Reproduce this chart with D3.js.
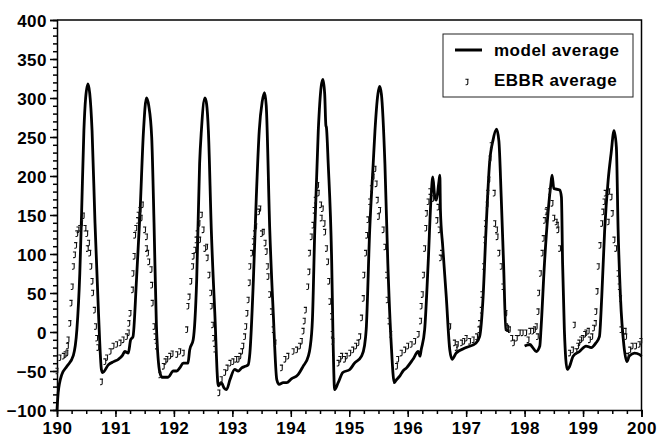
<!DOCTYPE html>
<html>
<head>
<meta charset="utf-8">
<script src="https://cdn.jsdelivr.net/npm/d3@7"></script>
<style>
  body { margin: 0; background: #fff; }
  svg { display: block; }
  .tick text { font-family: "Liberation Sans", Arial, sans-serif; font-weight: bold; font-size: 17px; letter-spacing: 0.5px; fill: #000; }
</style>
</head>
<body>
<div id="chart"></div>
<script>
// model average (null = gap in the record)
const modelT = [190.00,190.02,190.08,190.17,190.28,190.34,190.39,190.42,190.46,190.49,190.53,190.56,190.60,190.65,190.71,190.76,190.78,
  190.88,190.97,191.05,191.12,191.16,191.22,191.26,191.30,191.36,191.42,191.48,191.53,191.57,191.62,191.66,191.70,191.76,191.80,191.90,
  191.99,192.05,192.10,192.16,192.24,192.27,192.33,192.39,192.44,192.47,192.53,192.56,192.59,192.64,192.70,192.76,192.81,192.86,192.90,
  192.96,193.04,193.10,193.16,193.22,193.27,193.30,193.36,193.41,193.46,193.51,193.55,193.58,193.64,193.70,193.76,193.80,193.87,193.93,
  194.01,194.12,194.21,194.30,194.33,194.37,194.41,194.47,194.52,194.55,194.58,194.60,194.61,194.64,194.70,194.72,194.75,194.81,194.89,
  195.01,195.09,195.21,195.26,195.29,195.35,195.41,195.44,195.49,195.52,195.55,195.61,195.66,195.72,195.77,195.80,195.86,195.92,195.98,
  196.09,196.18,196.21,196.23,196.29,196.35,196.40,196.43,196.46,196.49,196.53,196.55,196.56,196.60,196.66,196.72,196.76,196.83,197.00,
  197.17,197.23,197.29,197.34,197.40,197.46,197.52,197.56,197.60,197.64,197.68,197.74,197.85,
  198.00,198.09,198.14,198.20,198.26,198.28,198.34,198.40,198.45,198.47,198.50,198.60,198.63,198.65,198.68,198.73,198.77,198.83,198.94,
  199.05,199.14,199.22,199.28,199.32,199.37,199.43,199.48,199.53,199.57,199.60,199.64,199.70,199.75,199.79,199.88,199.97,200.00];
const modelV = [-100,-78,-55,-44,-30,3,75,150,258,300,318,306,258,140,24,-48,-52,
  -42,-38,-35,-30,-25,-27,-10,-6,67,152,258,300,290,250,140,10,-52,-58,-58,
  -50,-50,-46,-40,-40,-23,-10,67,216,258,300,292,258,131,24,-69,-65,-72,-74,
  -61,-48,-50,-46,-44,-42,-27,67,173,258,295,307,290,131,24,-61,-67,-65,-65,
  -60,-55,-44,-31,-20,16,130,258,315,324,305,265,262,216,88,3,-74,-65,-52,
  -48,-40,-31,-18,3,131,216,258,305,315,305,216,88,-18,-65,-62,-57,-50,-46,
  -35,-25,-31,-23,3,88,173,199,175,169,190,201,156,109,45,-23,-35,-27,-20,
  -14,-6,45,131,216,246,260,245,173,88,3,1,null,
  -18,-16,-20,-25,-18,3,88,152,190,201,184,182,173,88,3,-48,-44,-31,-25,
  -18,-20,-14,-6,45,131,195,229,258,237,131,45,-18,-38,-31,-27,-29,-31];

// EBBR average
const ebbrT = [190.00,190.05,190.11,190.14,190.17,190.18,190.19,190.22,190.24,190.26,190.28,190.30,190.32,190.34,190.36,190.39,190.42,190.45,
  190.48,190.51,190.52,190.54,190.56,190.58,190.60,190.61,190.64,190.66,190.68,190.70,190.76,190.82,190.85,190.91,190.96,191.02,191.08,191.13,191.19,191.22,
  191.23,191.25,191.29,191.30,191.32,191.33,191.35,191.38,191.39,191.42,191.44,191.46,191.50,191.53,191.53,191.55,191.57,191.61,191.62,191.63,
  191.66,191.68,191.70,191.76,191.82,191.85,191.88,191.93,191.97,
  192.05,192.10,192.16,192.22,192.24,192.26,192.29,192.32,192.33,192.36,192.38,192.40,192.43,192.44,192.47,192.50,192.53,192.56,192.57,192.60,
  192.63,192.64,192.66,192.68,192.70,192.77,192.81,192.87,192.91,192.96,193.01,193.06,193.10,193.13,193.16,193.18,193.21,193.23,193.25,193.27,
  193.29,193.30,193.33,193.36,193.38,193.40,193.45,193.47,193.50,193.53,193.56,193.58,193.60,193.61,193.64,193.67,193.70,193.73,193.84,193.90,193.95,
  194.04,194.10,194.15,194.18,194.21,194.23,194.25,194.29,194.31,194.32,194.35,194.38,194.40,194.42,194.46,194.47,194.51,194.52,194.54,194.57,
  194.58,194.61,194.63,194.65,194.67,194.70,194.71,194.72,194.81,194.84,194.87,194.92,194.95,195.01,195.06,195.11,195.15,195.18,195.21,195.24,
  195.25,195.28,195.30,195.32,195.35,195.38,195.41,195.44,195.46,195.48,195.50,195.52,195.58,195.61,195.64,195.65,195.68,195.71,195.81,195.83,195.89,
  195.95,196.00,196.06,196.12,196.18,196.22,196.23,196.25,196.27,196.29,196.31,196.32,196.35,196.38,196.43,196.48,196.50,196.52,196.54,196.56,196.58,
  196.72,196.80,196.83,196.85,196.92,196.96,197.00,197.06,197.12,197.18,197.22,197.23,197.26,197.27,197.30,197.32,197.33,197.36,197.37,197.39,
  197.41,197.43,197.48,197.49,197.52,197.53,197.56,197.60,197.63,197.68,197.69,197.71,197.74,197.78,197.81,197.86,197.91,197.96,198.02,198.06,
  198.09,198.14,198.17,198.20,198.22,198.23,198.24,198.27,198.30,198.32,198.34,198.37,198.38,198.43,198.47,198.50,198.54,198.56,198.57,198.60,
  198.77,198.82,198.85,198.88,198.91,198.93,198.96,198.99,199.03,199.05,199.09,199.11,199.15,199.18,199.21,199.22,199.24,199.26,199.29,199.32,
  199.34,199.36,199.38,199.43,199.44,199.48,199.50,199.53,199.56,199.60,199.62,199.64,199.65,199.72,199.73,199.76,199.80,199.84,199.90,199.96,199.99];
const ebbrV = [-50,-33,-31,-29,-27,-18,-10,11,37,58,84,99,111,126,131,133,139,149,
  133,126,107,114,101,84,65,50,28,7,-8,-20,-64,-38,-33,-25,-18,-16,-14,-10,-6,-1,
  11,24,54,75,97,124,133,143,150,156,146,163,131,122,107,101,90,80,60,37,
  7,-6,-18,-55,-44,-38,-35,-31,-28,
  -29,-25,-27,3,33,45,65,84,97,105,118,126,139,118,150,131,107,109,95,73,
  50,33,9,-8,-22,-78,-61,-52,-46,-40,-38,-35,-35,-31,-25,-18,-6,7,24,41,
  63,84,101,116,126,135,154,158,126,128,114,103,84,71,48,26,3,-14,-46,-35,-31,
  -25,-23,-18,-12,1,14,28,58,77,101,122,137,156,169,188,178,163,146,158,139,
  128,107,90,65,39,20,-3,-12,-40,-35,-31,-35,-31,-27,-23,-18,-14,-6,18,43,
  73,101,124,144,167,184,199,209,190,169,148,156,131,109,73,41,14,-3,-44,-35,-27,
  -23,-18,-16,-12,-3,14,33,48,73,107,133,152,167,180,171,173,143,160,131,95,101,
  7,-14,-20,-16,-14,-12,-8,-12,-10,-6,3,11,28,48,84,118,139,163,178,195,
  222,239,178,139,131,122,101,84,58,24,7,5,3,-8,-14,-8,-1,-1,-1,-10,
  1,1,3,7,-6,26,50,75,101,120,143,154,156,180,165,146,141,137,131,107,
  -27,-23,9,-25,-18,-14,-10,-8,-3,-1,1,-10,-6,5,11,26,52,84,111,139,
  154,167,178,141,180,173,152,118,107,75,58,43,3,1,-6,-31,-23,-18,-18,-16,-12];

const xTicks = d3.range(190, 201, 1);
const xMinor = d3.range(190, 200.01, 0.25);
const yTicks = d3.range(-100, 401, 50);
const yMinor = d3.range(-100, 401, 10);
const legendItems = ["model average", "EBBR average"];

const W = 659, H = 438;
const margin = { left: 57, right: 641.5, top: 20, bottom: 410 };

// small hooked "J" marker used by the EBBR series
const jMark = "M-1.6,-2.8H1.6M0.8,-2.8V1.6Q0.8,2.8 -0.4,2.8H-1.4";

const svg = d3.select("#chart").append("svg")
    .attr("width", W)
    .attr("height", H);

const x = d3.scaleLinear().domain([190, 200]).range([margin.left, margin.right]);
const y = d3.scaleLinear().domain([-100, 400]).range([margin.bottom, margin.top]);

// minor ticks first, then major ticks with labels
svg.append("g")
    .attr("transform", `translate(0,${margin.bottom})`)
    .call(d3.axisBottom(x).tickValues(xMinor).tickSize(4).tickFormat(""))
    .call(g => g.select(".domain").remove());
svg.append("g")
    .attr("transform", `translate(${margin.left},0)`)
    .call(d3.axisLeft(y).tickValues(yMinor).tickSize(4).tickFormat(""))
    .call(g => g.select(".domain").remove());

const xAxis = svg.append("g")
    .attr("transform", `translate(0,${margin.bottom})`)
    .call(d3.axisBottom(x).tickValues(xTicks).tickSize(7).tickPadding(5).tickFormat(d3.format("d")));
const yAxis = svg.append("g")
    .attr("transform", `translate(${margin.left},0)`)
    .call(d3.axisLeft(y).tickValues(yTicks).tickSize(7).tickPadding(3).tickFormat(d3.format("d")));

svg.selectAll(".tick line").attr("stroke", "#000").attr("stroke-width", 1.5);
svg.selectAll(".domain").attr("stroke", "#000").attr("stroke-width", 1.5);
yAxis.selectAll(".tick text").attr("dy", "0.36em");

// top and right frame
svg.append("path")
    .attr("d", `M${margin.left},${margin.top}H${margin.right}V${margin.bottom}`)
    .attr("fill", "none")
    .attr("stroke", "#000")
    .attr("stroke-width", 1.5);

const plot = svg.append("g");

const modelData = modelT.map((t, i) => ({ t: t, v: modelV[i] }));
const line = d3.line()
    .defined(d => d.v !== null)
    .x(d => x(d.t))
    .y(d => y(d.v))
    .curve(d3.curveMonotoneX);

plot.append("path")
    .datum(modelData)
    .attr("d", line)
    .attr("fill", "none")
    .attr("stroke", "#000")
    .attr("stroke-width", 2.8)
    .attr("stroke-linejoin", "round");

const ebbrData = ebbrT.map((t, i) => ({ t: t, v: ebbrV[i] }));
plot.selectAll("path.ebbr")
    .data(ebbrData)
    .enter().append("path")
    .attr("class", "ebbr")
    .attr("transform", d => `translate(${x(d.t)},${y(d.v)})`)
    .attr("d", jMark)
    .attr("fill", "none")
    .attr("stroke", "#111")
    .attr("stroke-width", 1.1);

// legend
const legend = svg.append("g").attr("transform", "translate(443,34)");
legend.append("rect")
    .attr("width", 190)
    .attr("height", 63)
    .attr("fill", "#fff")
    .attr("stroke", "#222")
    .attr("stroke-width", 1);
legend.append("line")
    .attr("x1", 12).attr("x2", 39)
    .attr("y1", 16).attr("y2", 16)
    .attr("stroke", "#000")
    .attr("stroke-width", 3);
legend.append("path")
    .attr("transform", "translate(24,48)")
    .attr("d", jMark)
    .attr("fill", "none")
    .attr("stroke", "#111")
    .attr("stroke-width", 1.1);
legend.selectAll("text.lab")
    .data(legendItems)
    .enter().append("text")
    .attr("class", "lab")
    .attr("x", 51)
    .attr("y", (d, i) => 22 + i * 30)
    .style("font-family", "'Liberation Sans', Arial, sans-serif")
    .style("font-weight", "bold")
    .style("font-size", "17px")
    .style("letter-spacing", "0.5px")
    .text(d => d);
</script>
</body>
</html>
